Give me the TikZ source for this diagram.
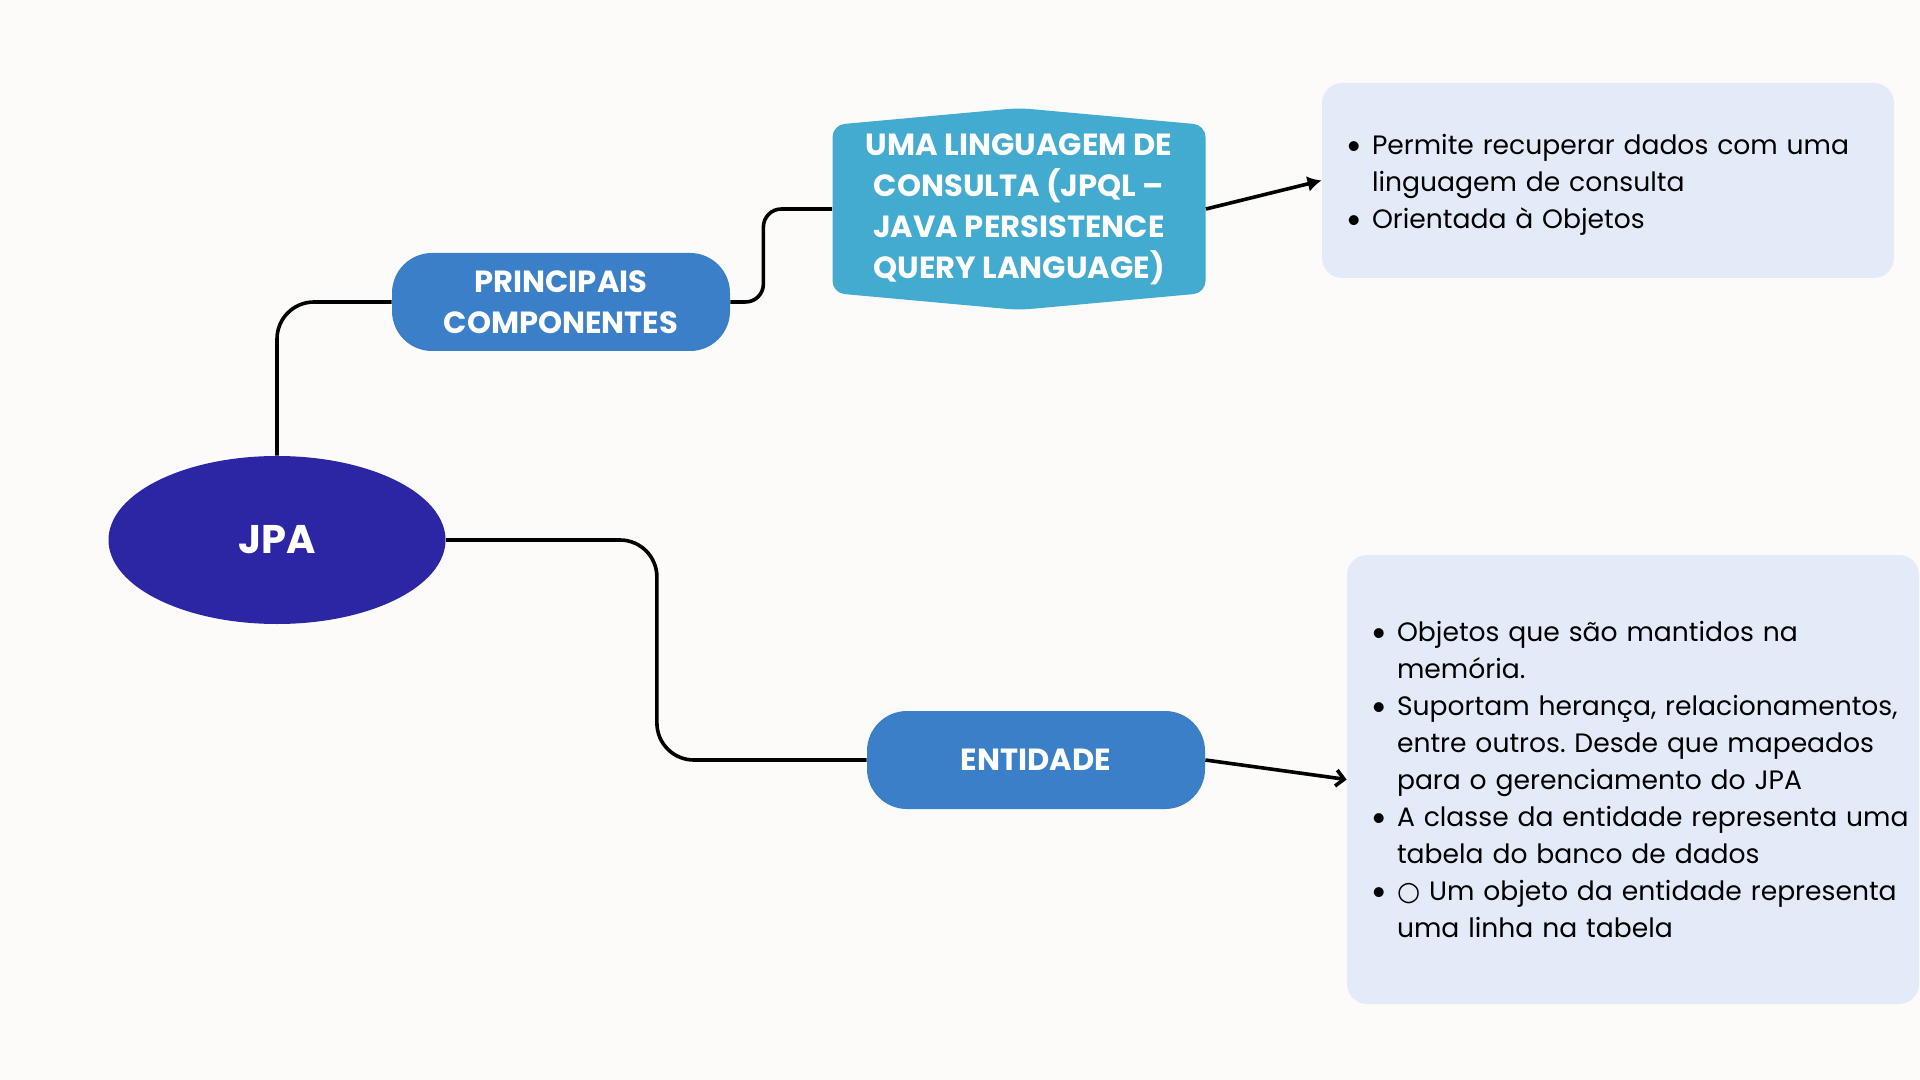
\documentclass[tikz,border=0pt]{standalone}
\usepackage{fontspec}
\setmainfont{Poppins}
\newfontfamily\headfont{Poppins}
\newfontfamily\symfont{DejaVu Sans}
\newfontfamily\dotfont{Lato}
\usepackage{xcolor}
\usetikzlibrary{calc}
\usetikzlibrary{arrows.meta}
\usetikzlibrary{shapes.geometric}
\frenchspacing

\definecolor{pagebg}{HTML}{FCFBF9}
\definecolor{jpablue}{HTML}{2D26A4}
\definecolor{midblue}{HTML}{3A7FC8}
\definecolor{skyblue}{HTML}{42ABCF}
\definecolor{notebg}{HTML}{E3EBF8}

\tikzset{
  headtext/.style={text=white, align=center, inner sep=0pt,
    font=\headfont\bfseries\fontsize{15.3}{20.5}\selectfont},
  topic/.style={headtext, fill=midblue, rounded corners=20pt,
    minimum width=169pt, minimum height=49pt},
  notebox/.style={fill=notebg, rounded corners=10pt, inner xsep=14.5pt, inner ysep=0pt,
    text width=257pt, align=left, minimum width=286pt,
    font=\fontsize{13.3}{18.5}\selectfont},
  link/.style={line width=1.8pt, rounded corners=18.5pt},
}

\newcommand{\bulletrow}[1]{\hspace{-2.5pt}{\dotfont\textbullet} & #1\\}

\begin{document}
\begin{tikzpicture}[x=0.5pt, y=-0.5pt]
  % Page
  \fill[pagebg] (0,0) rectangle (1920,1080);
  \useasboundingbox (0,0) rectangle (1920,1080);

  % Root
  \node[ellipse, fill=jpablue, inner sep=0pt, minimum width=168.5pt, minimum height=84pt,
        headtext, font=\headfont\bfseries\fontsize{20}{24}\selectfont] (jpa) at (277,540) {JPA};

  % Branches
  \node[topic] (princ) at (561,302) {PRINCIPAIS\\COMPONENTES};
  \node[topic] (ent) at (1036,760) {ENTIDADE};

  % Query language shape (pointed top and bottom)
  \coordinate (q) at (1019,209);
  \fill[skyblue, rounded corners=6pt] ($(q)+(-186.5,-84)$) -- ($(q)+(0,-101)$) -- ($(q)+(186.5,-84)$)
        -- ($(q)+(186.5,84)$) -- ($(q)+(0,101)$) -- ($(q)+(-186.5,84)$) -- cycle;
  \node[headtext, minimum width=186.5pt, minimum height=84pt] (jpql) at (q)
        {UMA LINGUAGEM DE\\CONSULTA (JPQL –\\JAVA PERSISTENCE\\QUERY LANGUAGE)};

  % Notes
  \node[notebox, minimum height=97.5pt] (note1) at (1608,180.5) {%
    \begin{tabular}{@{}p{10.5pt}@{}l@{}}
      \noalign{\vspace{3.5pt}}
      \bulletrow{Permite recuperar dados com uma}
      & linguagem de consulta\\
      \bulletrow{Orientada à Objetos}
    \end{tabular}};
  \node[notebox, minimum height=224.5pt] (note2) at (1633,779.5) {%
    \begin{tabular}{@{}p{10.5pt}@{}l@{}}
      \noalign{\vspace{2.5pt}}
      \bulletrow{Objetos que são mantidos na}
      & memória.\\
      \bulletrow{Suportam herança, relacionamentos,}
      & entre outros. Desde que mapeados\\
      & para o gerenciamento do JPA\\
      \bulletrow{A classe da entidade representa uma}
      & tabela do banco de dados\\
      \bulletrow{{\symfont ○} Um objeto da entidade representa}
      & uma linha na tabela\\
    \end{tabular}};

  % Connectors
  \draw[link] (jpa.north) |- (princ.west);
  \draw[link, rounded corners=9pt] (princ.east) -- ++(33,0) |- (jpql.west);
  \draw[link] (jpa.east) -- ++(211,0) |- (ent.west);
  \draw[line width=1.8pt, -{Latex[length=7pt, width=8pt]}] (jpql.east) -- (note1.west);
  \draw[line width=1.8pt, -{Straight Barb[length=4pt, width=8pt]}] (ent.east) -- (note2.west);
\end{tikzpicture}
\end{document}
